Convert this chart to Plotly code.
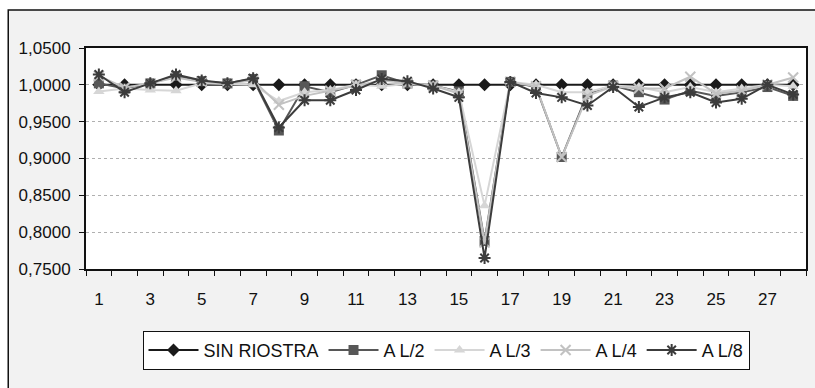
import plotly.graph_objects as go

categories = list(range(1, 29))
tick_labels = [str(i) for i in range(1, 28, 2)]

sin_riostra = [1.0] * 28
a_l2 = [1.002, 0.995, 1.002, 1.012, 1.005, 1.002, 1.008, 0.938, 0.998, 0.990,
        1.000, 1.013, 1.002, 0.999, 0.991, 0.788, 1.004, 0.997, 0.902, 0.988,
        0.999, 0.990, 0.980, 0.992, 0.985, 0.990, 0.997, 0.985]
a_l3 = [0.991, 0.995, 0.993, 0.992, 1.002, 1.001, 1.000, 0.978, 0.990, 0.993,
        1.000, 0.998, 1.001, 0.999, 0.990, 0.836, 1.004, 1.000, 0.990, 0.990,
        0.999, 0.997, 0.990, 0.997, 0.990, 0.995, 1.000, 0.998]
a_l4 = [1.012, 0.996, 1.002, 1.010, 1.004, 1.002, 1.006, 0.973, 0.985, 0.992,
        1.000, 1.006, 1.002, 0.999, 0.988, 0.786, 1.004, 0.998, 0.902, 0.985,
        0.998, 0.995, 0.995, 1.011, 0.988, 0.992, 1.000, 1.010]
a_l8 = [1.014, 0.990, 1.002, 1.014, 1.006, 1.002, 1.009, 0.942, 0.979, 0.979,
        0.993, 1.008, 1.005, 0.995, 0.983, 0.765, 1.004, 0.989, 0.983, 0.972,
        0.997, 0.970, 0.983, 0.990, 0.976, 0.981, 1.000, 0.987]

series = [
    ("SIN RIOSTRA", sin_riostra, "#1a1a1a", "diamond", 10),
    ("A L/2", a_l2, "#575757", "square", 10),
    ("A L/3", a_l3, "#d6d6d6", "triangle-up", 10),
    ("A L/4", a_l4, "#c2c2c2", "x-thin-open", 10),
    ("A L/8", a_l8, "#3c3c3c", "asterisk-open", 10),
]

fig = go.Figure()
for name, vals, color, sym, size in series:
    fig.add_trace(go.Scatter(
        x=categories, y=vals, name=name, mode="lines+markers",
        line=dict(color=color, width=2),
        marker=dict(symbol=sym, size=size, color=color,
                    line=dict(color=color, width=2 if "open" in sym else 0)),
    ))

font = "Liberation Sans, Arial, sans-serif"

fig.update_layout(
    width=815, height=388,
    margin=dict(l=86, r=7, t=48, b=119),
    paper_bgcolor="white",
    plot_bgcolor="rgba(0,0,0,0)",
    separators=",.",
    font=dict(family=font, size=17, color="#111111"),
    showlegend=True,
    legend=dict(orientation="h", x=0.5, xanchor="center", y=-0.28, yanchor="top",
                bgcolor="white", bordercolor="#111111", borderwidth=1,
                font=dict(family=font, size=18, color="#111111"),
                itemwidth=50, tracegroupgap=0),
    shapes=[
        dict(type="rect", xref="paper", yref="paper", x0=-0.108, x1=1.05,
             y0=-0.7, y1=1.172, fillcolor="#f2f2f2",
             line=dict(color="#111111", width=1.5), layer="below"),
        dict(type="rect", xref="paper", yref="paper", x0=0, x1=1, y0=0, y1=1,
             fillcolor="white", line=dict(width=0), layer="below"),
    ],
    xaxis=dict(
        range=[0.5, 28.5], tickvals=list(range(1, 28, 2)), ticktext=tick_labels,
        ticks="", showgrid=False, zeroline=False,
        showline=True, linecolor="#111111", linewidth=2, mirror=True,
        ticklabelstandoff=14,
        minor=dict(tickvals=[i + 0.5 for i in range(0, 29)], ticks="outside",
                   ticklen=5, tickcolor="#111111", tickwidth=1, showgrid=False),
    ),
    yaxis=dict(
        range=[0.75, 1.05], dtick=0.05, tick0=0.75, tickformat=".4f",
        ticks="outside", ticklen=5, tickcolor="#111111",
        showgrid=True, gridcolor="#b0b0b0", griddash="dot", gridwidth=1,
        zeroline=False, showline=True, linecolor="#111111", linewidth=2,
        mirror=True, ticklabelstandoff=5,
    ),
)

fig.write_html("out.html")
